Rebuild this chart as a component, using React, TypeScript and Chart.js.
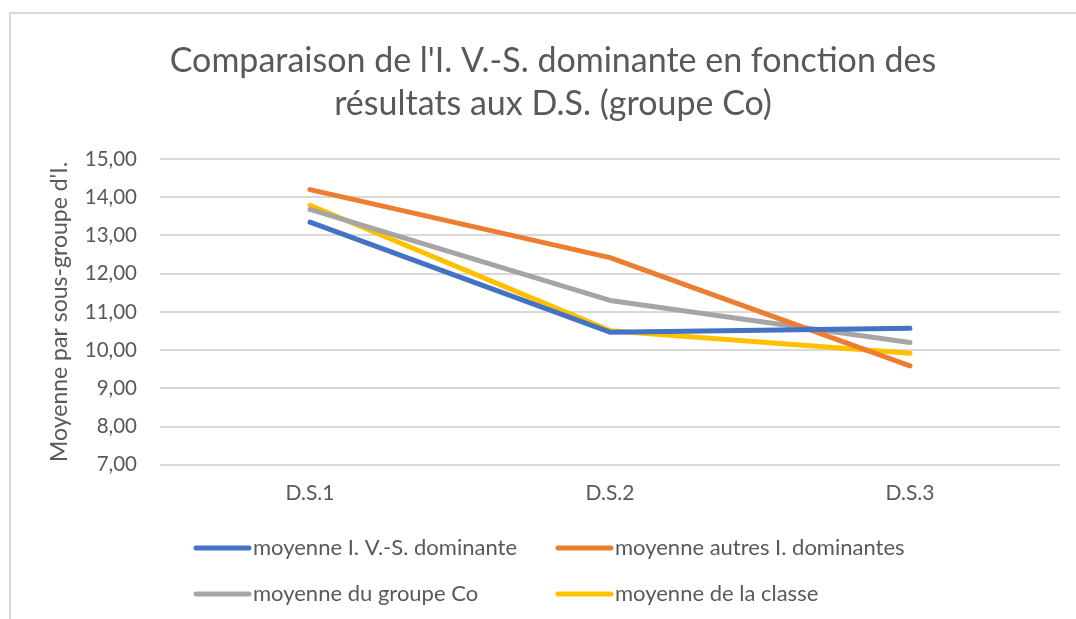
import React, { useEffect, useRef } from "react";
import { Chart, registerables } from "chart.js";

Chart.register(...registerables);

const categories = ["D.S.1", "D.S.2", "D.S.3"];
const seriesNames = [
  "moyenne I. V.-S. dominante",
  "moyenne autres I. dominantes",
  "moyenne du groupe Co",
  "moyenne de la classe",
];
const ivsDominante = [13.35, 10.47, 10.57];
const autresDominantes = [14.2, 12.42, 9.59];
const groupeCo = [13.68, 11.3, 10.2];
const classe = [13.79, 10.51, 9.92];
const seriesColors = ["#4472C4", "#ED7D31", "#A5A5A5", "#FFC000"];
const titleLines = [
  "Comparaison de l'I. V.-S. dominante en fonction des",
  "résultats aux D.S. (groupe Co)",
];
const yTitle = "Moyenne par sous-groupe d'I.";

const FONT = "Lato, 'Open Sans', sans-serif";
const TEXT = "#595959";

const legendPlugin = {
  id: "gridLegend",
  afterDraw(chart: any) {
    const ctx = chart.ctx;
    const cols = [196, 558];
    const rows = [548, 594];
    ctx.save();
    ctx.font = `22px ${FONT}`;
    ctx.textBaseline = "middle";
    ctx.textAlign = "left";
    chart.data.datasets.forEach((ds: any, i: number) => {
      const x = cols[i % 2];
      const y = rows[Math.floor(i / 2)];
      ctx.strokeStyle = ds.borderColor;
      ctx.lineWidth = 5;
      ctx.lineCap = "round";
      ctx.beginPath();
      ctx.moveTo(x, y);
      ctx.lineTo(x + 53, y);
      ctx.stroke();
      ctx.fillStyle = TEXT;
      ctx.fillText(ds.label, x + 57, y);
    });
    ctx.restore();
  },
};

export default function App() {
  const ref = useRef<HTMLCanvasElement | null>(null);
  useEffect(() => {
    if (!ref.current) return;
    const values = [ivsDominante, autresDominantes, groupeCo, classe];
    const chart = new Chart(ref.current, {
      type: "line",
      data: {
        labels: categories,
        datasets: values.map((v, i) => ({
          label: seriesNames[i],
          data: v,
          borderColor: seriesColors[i],
          backgroundColor: seriesColors[i],
          borderWidth: 5,
          borderCapStyle: "round",
          borderJoinStyle: "round",
          pointRadius: 0,
          tension: 0,
        })),
      },
      options: {
        animation: false,
        responsive: false,
        layout: { padding: { left: 46, right: 16, top: 0, bottom: 97 } },
        plugins: {
          legend: { display: false },
          tooltip: { enabled: false },
          title: {
            display: true,
            text: titleLines,
            color: TEXT,
            font: { family: FONT, size: 34, weight: "normal", lineHeight: 1.265 },
            padding: { top: 40, bottom: 33 },
          },
        },
        scales: {
          x: {
            offset: true,
            grid: { display: false, drawTicks: false },
            border: { display: false },
            ticks: { color: TEXT, font: { family: FONT, size: 21 }, padding: 16 },
          },
          y: {
            min: 7,
            max: 15,
            ticks: {
              stepSize: 1,
              color: TEXT,
              padding: 23,
              font: { family: FONT, size: 20.5 },
              callback: (v: any) => Number(v).toFixed(2).replace(".", ","),
            },
            grid: { color: "#D9D9D9", lineWidth: 2, drawTicks: false },
            border: { display: false },
            title: {
              display: true,
              text: yTitle,
              color: TEXT,
              font: { family: FONT, size: 23 },
              padding: 0,
            },
            afterFit: (s: any) => {
              s.width = 114;
            },
          },
        },
      },
      plugins: [legendPlugin],
    });
    return () => chart.destroy();
  }, []);
  return (
    <div style={{ position: "fixed", left: 0, top: 0, width: 1076, height: 619, background: "#fff" }}>
      <canvas ref={ref} width={1076} height={619} style={{ position: "absolute", left: 0, top: 0 }} />
      <div
        style={{
          position: "absolute",
          left: 9,
          top: 12,
          right: 0,
          bottom: 0,
          borderTop: "2px solid #D9D9D9",
          borderLeft: "2px solid #D9D9D9",
          pointerEvents: "none",
        }}
      />
    </div>
  );
}
